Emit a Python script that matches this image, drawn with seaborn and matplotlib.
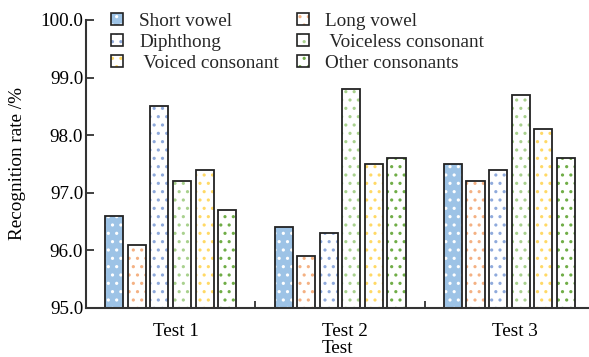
import matplotlib
matplotlib.use("Agg")
import matplotlib.pyplot as plt
import seaborn as sns
import pandas as pd
from matplotlib.patches import Rectangle, Patch
from matplotlib.transforms import ScaledTranslation

# Recognition rate (%) per test for each sound category
tests = ["Test 1", "Test 2", "Test 3"]
sounds = ["Short vowel", "Long vowel", "Diphthong",
          " Voiceless consonant", " Voiced consonant", "Other consonants"]
short_vowel = [96.6, 96.4, 97.5]
long_vowel = [96.1, 95.9, 97.2]
diphthong = [98.5, 96.3, 97.4]
voiceless_consonant = [97.2, 98.8, 98.7]
voiced_consonant = [97.4, 97.5, 98.1]
other_consonants = [96.7, 97.6, 97.6]
y_ticks = [95.0, 96.0, 97.0, 98.0, 99.0, 100.0]

series = [short_vowel, long_vowel, diphthong,
          voiceless_consonant, voiced_consonant, other_consonants]
df = pd.DataFrame({
    "Test": [t for _ in sounds for t in tests],
    "Sound": [s for s in sounds for _ in tests],
    "Rate": [v for vals in series for v in vals],
})

fills = ["#9dc3e6", "white", "white", "white", "white", "white"]
dots = ["white", "#f4b183", "#8faadc", "#a9d18e", "#ffd966", "#70ad47"]
outline = "#222222"
fs = 13.8

sns.set_theme(style="white")
plt.rcParams["font.family"] = ["Liberation Serif", "DejaVu Serif"]
plt.rcParams["hatch.linewidth"] = 1.1

fig = plt.figure(figsize=(5.89, 3.57), dpi=100)
ax = fig.add_axes([86 / 589, 49 / 357, 503 / 589, 288 / 357])

sns.barplot(data=df, x="Test", y="Rate", hue="Sound", hue_order=sounds,
            order=tests, palette=fills, width=0.8, gap=0.2,
            legend=False, ax=ax)

# dotted texture in the series colour, black outline drawn on top
for container, fc, dc in zip(ax.containers, fills, dots):
    for bar in container:
        bar.set_facecolor(fc)
        bar.set_edgecolor(dc)
        bar.set_linewidth(0)
        bar.set_hatch("..")
        ax.add_patch(Rectangle(bar.get_xy(), bar.get_width(), bar.get_height(),
                               fill=False, edgecolor=outline, linewidth=1.3,
                               zorder=bar.get_zorder() + 0.1))

ax.set_ylim(95, 100)
ax.set_xlim(-0.5, 2.47)
ax.set_yticks(y_ticks)
ax.set_yticklabels([f"{v:.1f}" for v in y_ticks])
ax.set_xticks(range(len(tests)))
ax.set_xticklabels(tests)
ax.set_xticks([0.5, 1.5], minor=True)

for side in ("top", "right"):
    ax.spines[side].set_visible(False)
for side in ("left", "bottom"):
    ax.spines[side].set_color("#333333")
    ax.spines[side].set_linewidth(1.5)

ax.tick_params(axis="y", which="major", direction="in", length=6, width=1.3,
               color="#333333", pad=2, labelsize=fs, labelcolor="black", left=True)
ax.tick_params(axis="x", which="major", length=0, pad=11, labelsize=fs,
               labelcolor="black")
ax.tick_params(axis="x", which="minor", direction="in", length=5, width=1.3,
               color="#333333", bottom=True)
for lab in ax.get_xticklabels():
    lab.set_transform(lab.get_transform() + ScaledTranslation(0.05, 0, fig.dpi_scale_trans))

ax.set_xlabel("Test", fontsize=fs, labelpad=0, color="black")
ax.set_ylabel("Recognition rate /%", fontsize=fs, labelpad=10, color="black")

# legend: two columns, filled column-wise
handles = []
for fc, dc in zip(fills, dots):
    tex = Patch(facecolor=fc, edgecolor=dc, linewidth=0, hatch="..")
    box = Patch(facecolor="none", edgecolor=outline, linewidth=1.2)
    handles.append((tex, box))
order = [0, 2, 4, 1, 3, 5]
fig.legend([handles[i] for i in order], [sounds[i] for i in order],
           loc="upper left", bbox_to_anchor=(111 / 589, 1 - 13 / 357),
           ncol=2, frameon=False, fontsize=fs, borderpad=0, borderaxespad=0,
           handlelength=0.62, handleheight=0.62, handletextpad=0.85,
           columnspacing=0.95, labelspacing=0.2)

fig.savefig("out.png", dpi=100)
